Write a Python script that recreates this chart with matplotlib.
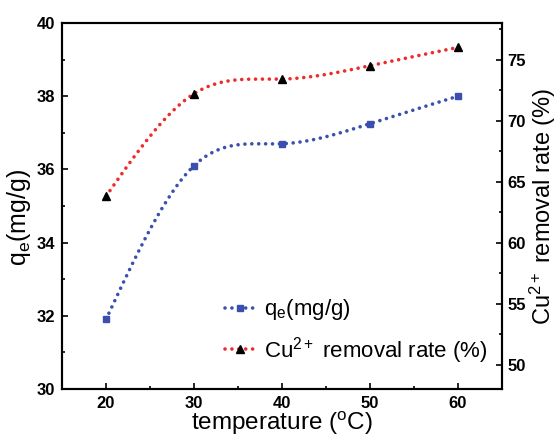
import numpy as np
import matplotlib
matplotlib.use("Agg")
import matplotlib.pyplot as plt
from matplotlib.lines import Line2D
from matplotlib.ticker import MultipleLocator

plt.rcParams['font.family'] = ['Liberation Sans', 'DejaVu Sans']
plt.rcParams['mathtext.fontset'] = 'custom'
plt.rcParams['mathtext.rm'] = 'Liberation Sans'
plt.rcParams['mathtext.it'] = 'Liberation Sans:italic'
plt.rcParams['mathtext.bf'] = 'Liberation Sans:bold'

# Adsorption data
temperature = [20, 30, 40, 50, 60]           # degC
qe = [31.9, 36.1, 36.7, 37.25, 38.0]         # mg/g
removal_rate = [63.8, 72.2, 73.4, 74.5, 76.0]  # %

blue = '#3b50ae'
red = '#ee2b2b'


def natural_spline(x, y, n=300):
    # natural cubic spline through the measured points (smooth connecting line)
    x = np.asarray(x, float)
    y = np.asarray(y, float)
    k = len(x)
    h = np.diff(x)
    A = np.zeros((k, k))
    b = np.zeros(k)
    A[0, 0] = A[-1, -1] = 1
    for i in range(1, k - 1):
        A[i, i - 1] = h[i - 1]
        A[i, i] = 2 * (h[i - 1] + h[i])
        A[i, i + 1] = h[i]
        b[i] = 6 * ((y[i + 1] - y[i]) / h[i] - (y[i] - y[i - 1]) / h[i - 1])
    M = np.linalg.solve(A, b)
    xs = np.linspace(x[0], x[-1], n)
    idx = np.clip(np.searchsorted(x, xs) - 1, 0, k - 2)
    x0, x1 = x[idx], x[idx + 1]
    hh = x1 - x0
    t0, t1 = x1 - xs, xs - x0
    ys = (M[idx] * t0**3 + M[idx + 1] * t1**3) / (6 * hh) \
        + (y[idx] / hh - M[idx] * hh / 6) * t0 \
        + (y[idx + 1] / hh - M[idx + 1] * hh / 6) * t1
    return xs, ys


dots = dict(linestyle=(0, (0.01, 1.9)), linewidth=2.6, dash_capstyle='round')

fig = plt.figure(figsize=(5.6, 4.38), dpi=100)
ax = fig.add_axes([0.1107, 0.1119, 0.7857, 0.8356])
ax2 = ax.twinx()

xs, ys = natural_spline(temperature, qe)
ax.plot(xs, ys, color=blue, **dots)
ax.plot(temperature, qe, 's', color=blue, markersize=4.5, zorder=5)

xs, ys = natural_spline(temperature, removal_rate)
ax2.plot(xs, ys, color=red, **dots)
ax2.plot(temperature, removal_rate, '^', color='black', markersize=5.5, zorder=5)

ax.set_xlim(15, 65)
ax.set_ylim(30, 40)
ax2.set_ylim(48, 78)

ax.xaxis.set_major_locator(MultipleLocator(10))
ax.xaxis.set_minor_locator(MultipleLocator(5))
ax.yaxis.set_major_locator(MultipleLocator(2))
ax.yaxis.set_minor_locator(MultipleLocator(1))
ax2.yaxis.set_major_locator(MultipleLocator(5))
ax2.yaxis.set_minor_locator(MultipleLocator(2.5))

for a in (ax, ax2):
    for s in a.spines.values():
        s.set_linewidth(1.5)
    a.tick_params(which='major', direction='in', length=4, width=1.2, labelsize=12)
    a.tick_params(which='minor', direction='in', length=2.5, width=1.2)
ax.tick_params(axis='x', pad=5)
ax.tick_params(axis='y', pad=5)
ax2.tick_params(axis='y', pad=4)
for lbl in ax.get_xticklabels() + ax.get_yticklabels() + ax2.get_yticklabels():
    lbl.set_fontweight('bold')

ax.set_xlabel('temperature ($^\\mathrm{o}$C)', fontsize=17.5, labelpad=-1)
ax.set_ylabel('q$_\\mathrm{e}$(mg/g)', fontsize=18, labelpad=0)
ax.yaxis.set_label_coords(-0.066, 0.47)
ax2.set_ylabel('Cu$^\\mathrm{2+}$ removal rate (%)', fontsize=17, labelpad=1)

handles = [
    Line2D([], [], color=blue, marker='s', markersize=4.5, markerfacecolor=blue,
           markeredgecolor=blue, **dots),
    Line2D([], [], color=red, marker='^', markersize=5.5, markerfacecolor='black',
           markeredgecolor='black', **dots),
]
ax.legend(handles, ['q$_\\mathrm{e}$(mg/g)', 'Cu$^\\mathrm{2+}$ removal rate (%)'],
          loc='center left', bbox_to_anchor=(0.37, 0.157), frameon=False,
          fontsize=16, numpoints=1, handlelength=1.4, handletextpad=0.35,
          labelspacing=0.55, borderpad=0, borderaxespad=0)

fig.savefig('out.png', dpi=100)
